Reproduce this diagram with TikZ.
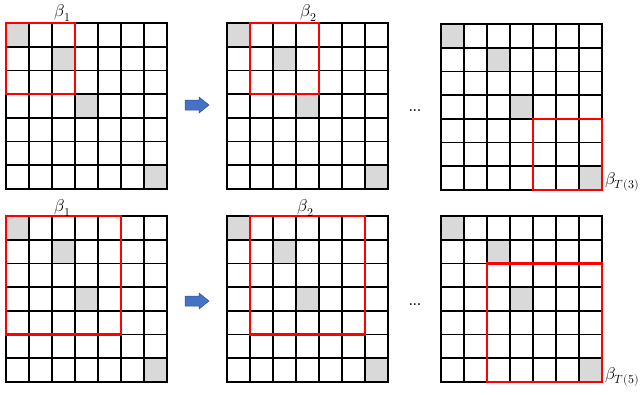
\documentclass[tikz,border=0pt]{standalone}
\usepackage{unicode-math}
\setmathfont{Latin Modern Math}
\definecolor{cellgray}{HTML}{D9D9D9}
\definecolor{arrowblue}{HTML}{4472C4}
\definecolor{arrowedge}{HTML}{2F528F}
\definecolor{boxred}{HTML}{FF0000}
\tikzset{
  gridline/.style={line width=1.7pt, black, line cap=rect},
  redbox/.style={line width=2.5pt, boxred},
  lbl/.style={inner sep=0pt, font=\fontsize{17}{20}\selectfont},
  dotlbl/.style={inner sep=0pt, font=\fontsize{13}{15}\selectfont\bfseries},
  bluearrow/.style={fill=arrowblue, draw=arrowedge, line width=0.5pt}
}
\newcommand{\matgrid}[6]{%
  \begin{scope}[shift={(#1,#2)}, x=23pt, y=-23.7pt]
    \foreach \r/\c in {0/0,1/2,3/3,6/6} \fill[cellgray] (\c,\r) rectangle ++(1,1);
    \foreach \i in {0,...,7} {\draw[gridline] (\i,0) -- (\i,7); \draw[gridline] (0,\i) -- (7,\i);}
    \draw[redbox] (#3,#4) rectangle (#5+1,#6+1);
  \end{scope}}
\newcommand{\blockarrow}[2]{%
  \draw[bluearrow] (#1,#2-5) -- (#1+14,#2-5) -- (#1+14,#2-8) -- (#1+24,#2) -- (#1+14,#2+8) -- (#1+14,#2+5) -- (#1,#2+5) -- cycle;}
\begin{document}
\begin{tikzpicture}[x=1pt, y=-1pt]
  \useasboundingbox (0,0) rectangle (640,394);
  % top row
  \matgrid{6}{23}{0}{0}{2}{2}
  \matgrid{227}{23}{1}{0}{3}{2}
  \matgrid{441}{24}{4}{4}{6}{6}
  % bottom row
  \matgrid{6}{216}{0}{0}{4}{4}
  \matgrid{227}{216}{1}{0}{5}{4}
  \matgrid{441}{216}{2}{2}{6}{6}
  % labels
  \node[lbl] (bt1) at (63,13) {$\beta_1$};
  \node[lbl] (bt2) at (309,13) {$\beta_2$};
  \node[lbl, anchor=west] (bt3) at (605,182) {$\beta_{T(3)}$};
  \node[lbl] (bb1) at (63,208) {$\beta_1$};
  \node[lbl] (bb2) at (306,208) {$\beta_2$};
  \node[lbl, anchor=west] (bb3) at (605,377) {$\beta_{T(5)}$};
  % dots
  \node[dotlbl] (dt) at (415,111) {...};
  \node[dotlbl] (db) at (415,305) {...};
  % arrows
  \blockarrow{185}{105}
  \blockarrow{185}{301}
\end{tikzpicture}
\end{document}
